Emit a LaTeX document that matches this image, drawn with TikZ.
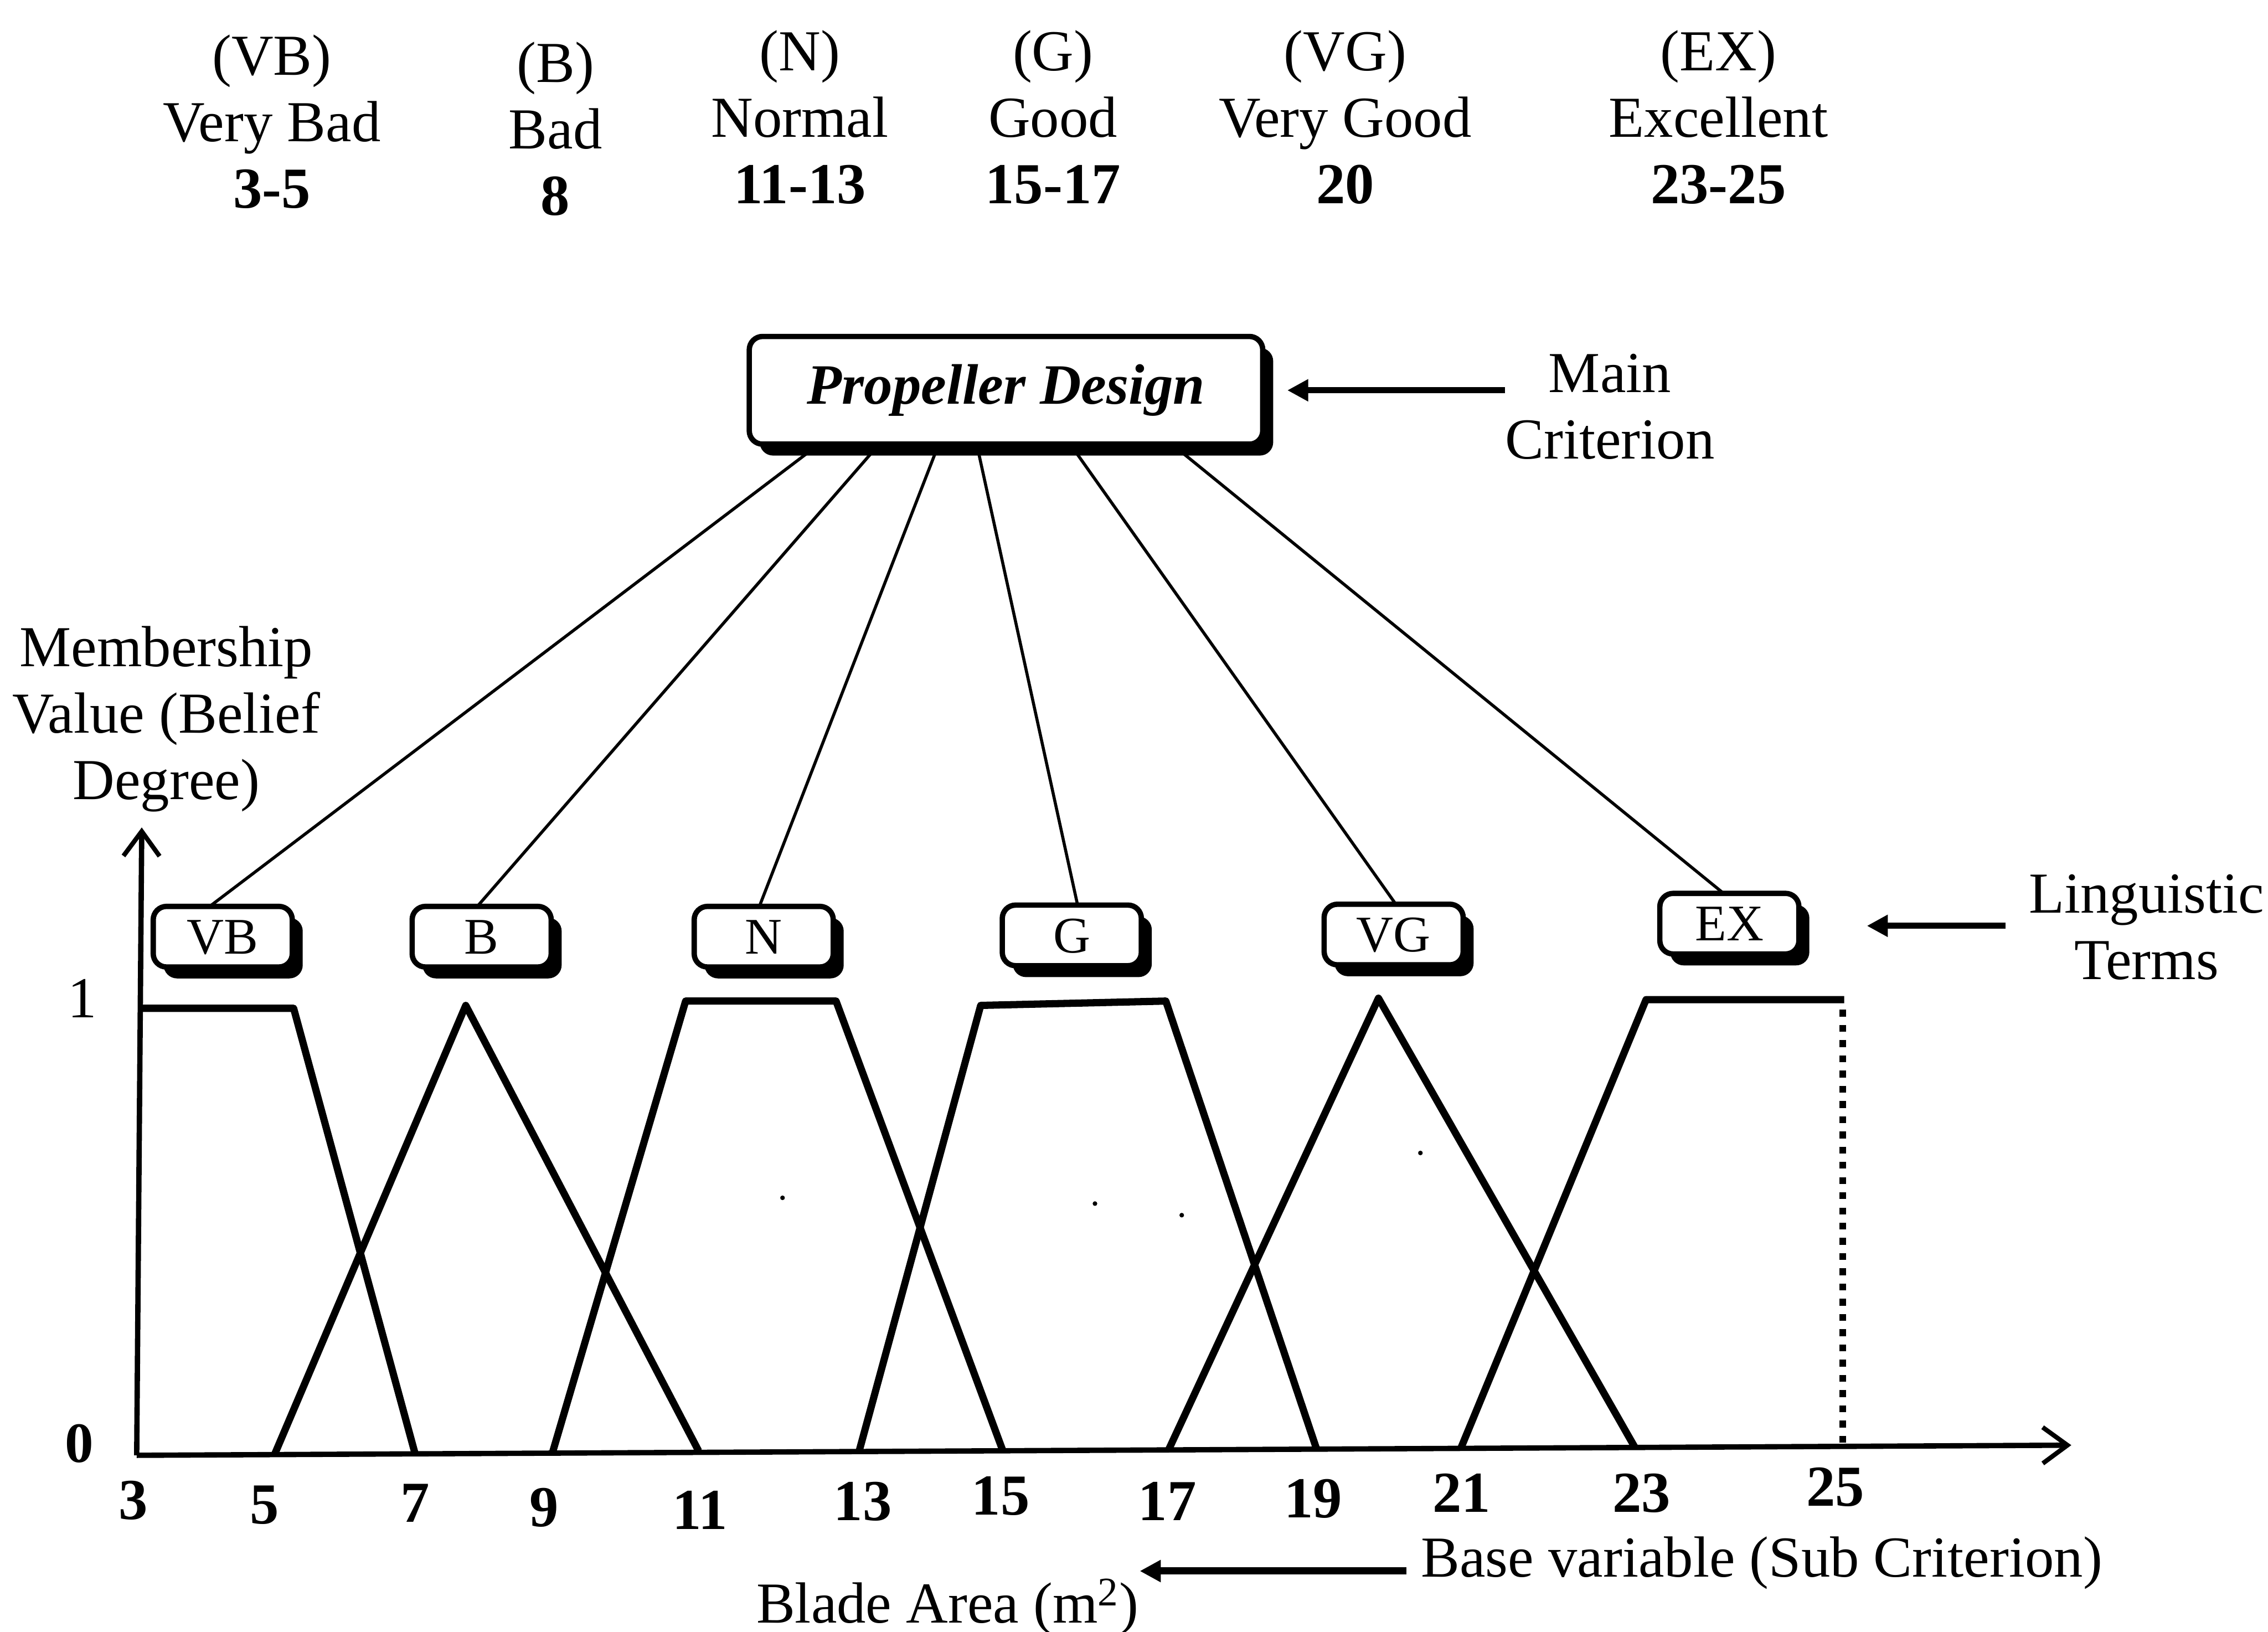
\documentclass[tikz,border=0pt]{standalone}
\usepackage{fontspec}
\setmainfont{Liberation Serif}
\usetikzlibrary{arrows.meta,calc,shadows}
\begin{document}
\begin{tikzpicture}[x=0.02674cm,y=-0.02674cm,
  every node/.style={inner sep=0pt, outer sep=0pt},
  lbl/.style={align=center, font=\fontsize{30.5}{35}\selectfont},
  numlbl/.style={font=\fontsize{30.5}{35}\selectfont\bfseries, text height=20pt, text depth=0pt},
  shadowbox/.style={draw, line width=2.8pt, rounded corners=7pt, fill=white,
    drop shadow={shadow xshift=5.5pt, shadow yshift=-6pt, opacity=1, fill=black}},
  crit/.style={shadowbox, minimum width=9.49cm, minimum height=1.99cm,
    font=\fontsize{30}{35}\selectfont\bfseries\itshape},
  term/.style={shadowbox, minimum width=2.57cm, minimum height=1.12cm,
    font=\fontsize{27}{32}\selectfont, text height=18pt, text depth=0pt},
  link/.style={line width=1.6pt},
  mf/.style={line width=3.8pt, line join=round},
  axis/.style={line width=2.8pt, -{Straight Barb[length=13pt,width=19pt,line width=2.4pt]}},
  ptr/.style={line width=3.2pt, -{Triangle[length=11pt,width=11pt]}},
  speck/.style={fill=black},
]
\useasboundingbox (0,0) rectangle (1568,1128);

% legend of the linguistic terms
\node[lbl] (lvb) at (188,84) {(VB)\\Very Bad\\\textbf{3-5}};
\node[lbl] (lb)  at (384,89) {(B)\\Bad\\\textbf{8}};
\node[lbl] (ln)  at (553,81) {(N)\\Normal\\\textbf{11-13}};
\node[lbl] (lg)  at (728,81) {(G)\\Good\\\textbf{15-17}};
\node[lbl] (lvg) at (930,81) {(VG)\\Very Good\\\textbf{20}};
\node[lbl] (lex) at (1188,81) {(EX)\\Excellent\\\textbf{23-25}};

% main criterion
\node[crit] (pd) at (695.5,269.8) {Propeller Design};
\node[lbl] (mc) at (1113,281) {Main\\Criterion};
\draw[ptr] (mc.west |- pd.east) -- ($(pd.east)+(17,0)$);

% linguistic term boxes
\node[term] (vb) at (154,647.5) {VB};
\node[term] (b)  at (333,647.5) {B};
\node[term] (n)  at (528,647.5) {N};
\node[term] (g)  at (741,646.6) {G};
\node[term] (vg) at (963.5,646) {VG};
\node[term] (ex) at (1195.6,638.5) {EX};
\node[lbl] (lt) at (1484,641) {Linguistic\\Terms};
\draw[ptr] ($(lt.west)+(-16,-1)$) -- ($(ex.east |- lt.west)+(47,-1)$);

% links from the main criterion to the terms
\draw[link] ($(pd.south west)!0.136!(pd.south east)$) -- ($(vb.north)+(-9,0)$);
\draw[link] ($(pd.south west)!0.253!(pd.south east)$) -- ($(b.north)+(-3,0)$);
\draw[link] ($(pd.south west)!0.369!(pd.south east)$) -- ($(n.north)+(-3,0)$);
\draw[link] ($(pd.south west)!0.443!(pd.south east)$) -- ($(g.north)+(4,0)$);
\draw[link] ($(pd.south west)!0.625!(pd.south east)$) -- ($(vg.north)+(1.5,0)$);
\draw[link] ($(pd.south west)!0.823!(pd.south east)$) -- ($(ex.north)+(-4,0)$);

% axes
\coordinate (o) at (94.5,1006);
\draw[axis] (o) -- (98,572);
\draw[axis] (o) -- (1432,999);
\node[lbl] (y1) at (57,690) {1};
\node[lbl,font=\fontsize{30}{35}\selectfont\bfseries] (y0) at (55,998) {0};
\node[lbl] (ylab) at (115,497) {Membership\\Value (Belief\\Degree)};

% membership functions
\draw[mf] (96.5,697) -- (203,697) -- (287,1005);
\draw[mf] (190,1005) -- (322,695) -- (483,1003);
\draw[mf] (382,1004) -- (474,692) -- (578,692) -- (693,1002);
\draw[mf] (594,1003) -- (678,695) -- (806,692) -- (910,1001);
\draw[mf] (808,1002) -- (953,690) -- (1130,1000);
\draw[mf] (1010,1001) -- (1138,691) -- (1275,691);
\draw[line width=3.6pt, dash pattern=on 3.6pt off 4.4pt] (1274,698) -- (1274,998);

% tick labels of the base variable
\foreach \v/\x/\y in {3/92/1037, 5/183/1040, 7/287/1039, 9/376/1042,
  11/484/1044, 13/596.5/1038, 15/691.8/1034, 17/807/1038, 19/908/1036,
  21/1010.5/1032, 23/1135/1032, 25/1269/1028}
  \node[numlbl] (t\v) at (\x,\y) {\v};

% stray specks
\foreach \x/\y in {541/828, 757/832, 817/840, 982/797}
  \fill[speck] (\x,\y) circle (1.6);

% base variable caption
\node[lbl, anchor=base] (bv) at (1218,1090) {Base variable (Sub Criterion)};
\node[lbl, anchor=base] (ba) at (655,1122) {Blade Area (m\textsuperscript{2})};
\coordinate (baend) at (788,1086);
\draw[ptr, line width=3.8pt] ([shift={(-10,-4)}]bv.base west) -- (baend);
\end{tikzpicture}
\end{document}
